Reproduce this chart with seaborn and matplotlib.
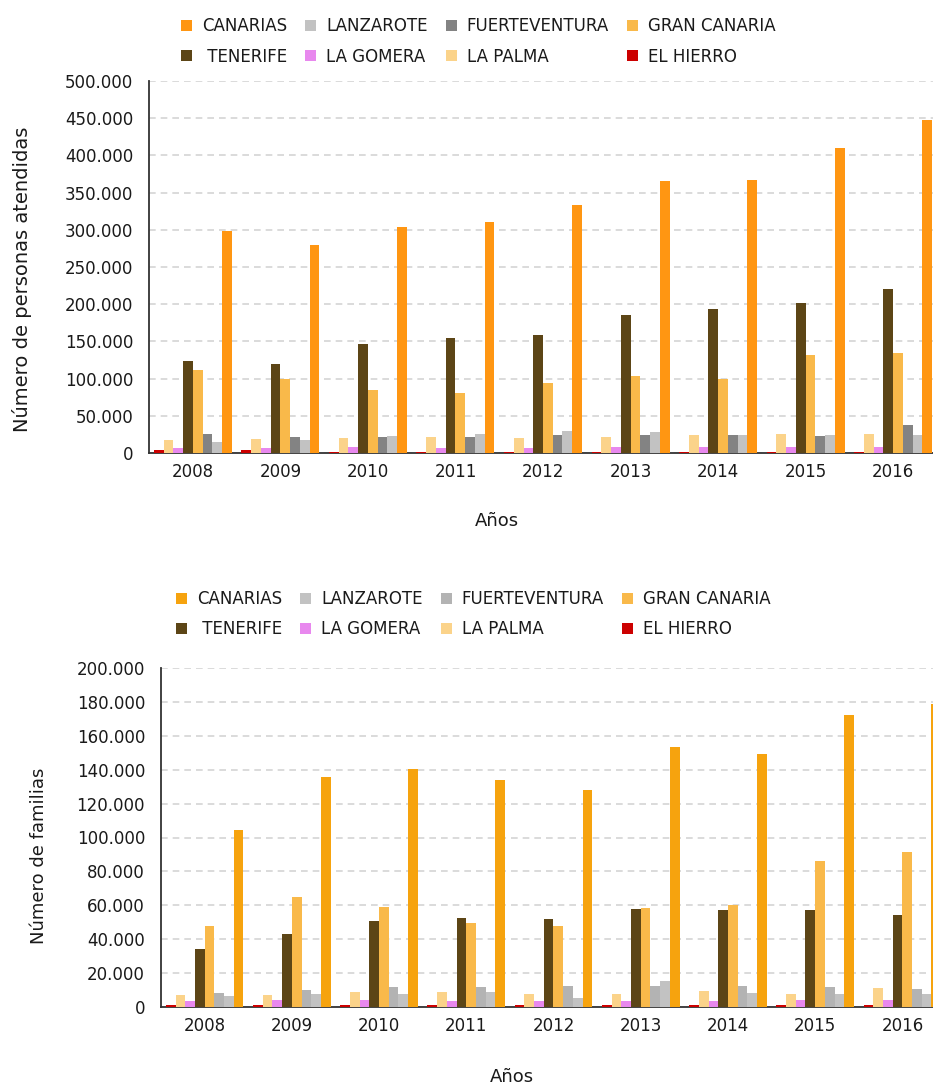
import numpy as np
import pandas as pd
import seaborn as sns
import matplotlib.pyplot as plt
from matplotlib.patches import Patch
from matplotlib.ticker import FuncFormatter, FixedLocator

years = ['2008', '2009', '2010', '2011', '2012', '2013', '2014', '2015', '2016']

# orden de las barras dentro de cada año
bar_order = ['EL HIERRO', 'LA PALMA', 'LA GOMERA', 'TENERIFE', 'GRAN CANARIA',
             'FUERTEVENTURA', 'LANZAROTE', 'CANARIAS']

# personas atendidas
canarias_p = [298000, 280000, 304000, 311000, 334000, 366000, 367000, 410000, 448000]
tenerife_p = [123000, 119000, 146000, 154000, 159000, 186000, 193000, 201000, 221000]
gran_canaria_p = [111000, 99000, 85000, 81000, 94500, 104000, 100000, 132000, 134000]
fuerteventura_p = [25000, 21000, 22000, 22000, 24000, 24000, 24000, 22500, 37000]
lanzarote_p = [14500, 17000, 23500, 26000, 29000, 28000, 24000, 24000, 24000]
la_palma_p = [17000, 18500, 20000, 21000, 19500, 21000, 24000, 25000, 25000]
la_gomera_p = [6500, 6500, 8000, 6500, 6500, 8000, 8000, 8000, 8000]
el_hierro_p = [4500, 4500, 2000, 2000, 2000, 2000, 2000, 2000, 2000]

# familias
canarias_f = [104500, 135700, 140500, 134000, 128000, 153500, 149500, 172500, 178500]
tenerife_f = [34000, 43000, 50500, 52300, 51700, 57600, 57000, 57000, 54000]
gran_canaria_f = [47500, 65000, 58800, 49400, 48000, 58200, 60000, 86000, 91500]
fuerteventura_f = [8000, 10000, 11800, 11800, 12300, 12300, 12300, 11800, 10500]
lanzarote_f = [6300, 7600, 7600, 8800, 5300, 15200, 8200, 7600, 7600]
la_palma_f = [7000, 7000, 8800, 8800, 7600, 7600, 9200, 7600, 11000]
la_gomera_f = [3500, 4000, 4000, 3500, 3500, 3500, 3500, 4000, 4000]
el_hierro_f = [1000, 1000, 1000, 1000, 1000, 1000, 1000, 1000, 1000]

colors_top = {'CANARIAS': '#FF9612', 'LANZAROTE': '#C2C2C2', 'FUERTEVENTURA': '#838383',
              'GRAN CANARIA': '#F9B94A', 'TENERIFE': '#5C4516', 'LA GOMERA': '#E888EE',
              'LA PALMA': '#FBD38A', 'EL HIERRO': '#CC0000'}
colors_bot = dict(colors_top, **{'CANARIAS': '#F6A30E', 'FUERTEVENTURA': '#B3B3B3'})

legend_rows = [['CANARIAS', 'LANZAROTE', 'FUERTEVENTURA', 'GRAN CANARIA'],
               ['TENERIFE', 'LA GOMERA', 'LA PALMA', 'EL HIERRO']]


def long_df(series):
    rows = []
    for isla, vals in series.items():
        for y, v in zip(years, vals):
            rows.append({'year': y, 'isla': isla, 'value': v})
    return pd.DataFrame(rows)


def thousands(v, pos):
    return f'{int(round(v)):,}'.replace(',', '.')


def draw(ax, df, colors, ymax, step):
    sns.barplot(data=df, x='year', y='value', hue='isla', hue_order=bar_order,
                palette=colors, width=0.89, linewidth=0, saturation=1,
                legend=False, ax=ax, zorder=3)
    ax.set_xlim(-0.5, len(years) - 0.5)
    ax.set_ylim(0, ymax)
    ax.set_yticks(np.arange(0, ymax + 1, step))
    ax.yaxis.set_major_formatter(FuncFormatter(thousands))
    ax.grid(axis='y', color='#D4D4D4', linestyle=(0, (4, 3)), linewidth=1.2, zorder=0)
    ax.grid(axis='x', visible=False)
    ax.set_axisbelow(True)
    # separadores entre años como ticks mayores, etiquetas en los menores
    ax.xaxis.set_major_locator(FixedLocator(np.arange(-0.5, len(years), 1.0)))
    ax.xaxis.set_major_formatter(FuncFormatter(lambda v, p: ''))
    ax.set_xticks(np.arange(len(years)), labels=years, minor=True)
    ax.tick_params(axis='x', which='major', length=10, width=1.5, color='#333333', direction='out')
    ax.tick_params(axis='x', which='minor', length=0, pad=7, labelsize=12, labelcolor='#1a1a1a')
    ax.tick_params(axis='y', length=8, width=1.5, color='#333333', labelsize=12, labelcolor='#1a1a1a')
    for s in ['top', 'right']:
        ax.spines[s].set_visible(False)
    for s in ['left', 'bottom']:
        ax.spines[s].set_color('#333333')
        ax.spines[s].set_linewidth(1.3)


def add_legend(fig, colors, x, y):
    handles = []
    for c in range(4):
        for r in range(2):
            name = legend_rows[r][c]
            label = ' ' + name if name == 'TENERIFE' else name
            handles.append(Patch(facecolor=colors[name], edgecolor='none', label=label))
    fig.legend(handles=handles, ncol=4, loc='upper left', bbox_to_anchor=(x, y),
               frameon=False, fontsize=12, handlelength=0.65, handleheight=0.65,
               handletextpad=0.6, columnspacing=1.1, labelspacing=0.75,
               borderpad=0, borderaxespad=0, labelcolor='#1a1a1a')


sns.set_style('white')
plt.rcParams['font.family'] = ['DejaVu Sans']

fig = plt.figure(figsize=(9.33, 10.87), dpi=100)
W, H = 933, 1087

ax1 = fig.add_axes([149 / W, 1 - 453 / H, 788 / W, (453 - 81) / H])
df_p = long_df({'CANARIAS': canarias_p, 'TENERIFE': tenerife_p, 'GRAN CANARIA': gran_canaria_p,
                'FUERTEVENTURA': fuerteventura_p, 'LANZAROTE': lanzarote_p, 'LA PALMA': la_palma_p,
                'LA GOMERA': la_gomera_p, 'EL HIERRO': el_hierro_p})
draw(ax1, df_p, colors_top, 500000, 50000)
ax1.set_xlabel('Años', fontsize=13, color='#1a1a1a')
ax1.set_ylabel('Número de personas atendidas', fontsize=14, color='#1a1a1a')
ax1.xaxis.set_label_coords((497 - 149) / 788, -(512 - 453) / 372)
ax1.yaxis.set_label_coords(-(149 - 32) / 788, (453 - 279) / 372)
add_legend(fig, colors_top, 181 / W, 1 - 17 / H)

ax2 = fig.add_axes([161 / W, 1 - 1007 / H, 785 / W, (1007 - 668) / H])
df_f = long_df({'CANARIAS': canarias_f, 'TENERIFE': tenerife_f, 'GRAN CANARIA': gran_canaria_f,
                'FUERTEVENTURA': fuerteventura_f, 'LANZAROTE': lanzarote_f, 'LA PALMA': la_palma_f,
                'LA GOMERA': la_gomera_f, 'EL HIERRO': el_hierro_f})
draw(ax2, df_f, colors_bot, 200000, 20000)
ax2.set_xlabel('Años', fontsize=13, color='#1a1a1a')
ax2.set_ylabel('Número de familias', fontsize=13, color='#1a1a1a')
ax2.xaxis.set_label_coords((512 - 161) / 785, -(1068 - 1007) / 339)
ax2.yaxis.set_label_coords(-(161 - 48) / 785, (1007 - 856) / 339)
add_legend(fig, colors_bot, 176 / W, 1 - 590 / H)

fig.savefig('out.png', dpi=100)
